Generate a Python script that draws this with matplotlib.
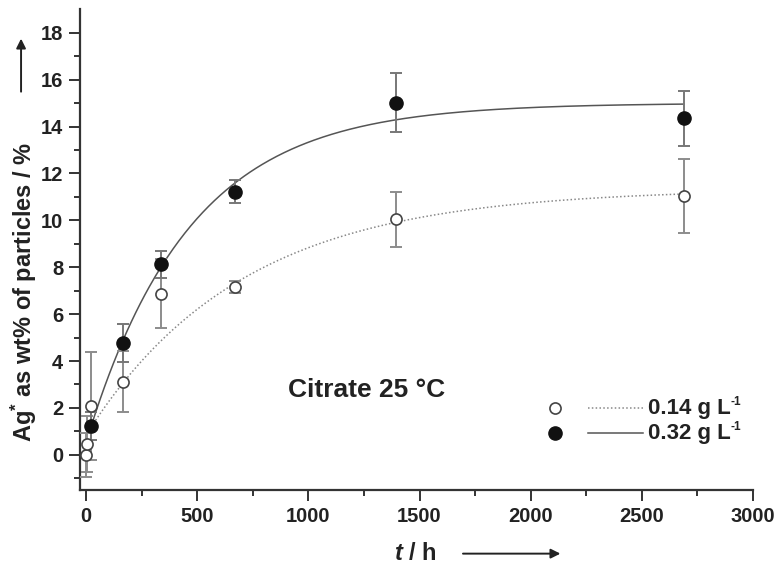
import numpy as np
import matplotlib
matplotlib.use("Agg")
import matplotlib.pyplot as plt
from matplotlib.patches import FancyArrowPatch

plt.rcParams['font.family'] = ['Liberation Sans', 'DejaVu Sans']
plt.rcParams['font.weight'] = 'bold'
plt.rcParams['mathtext.fontset'] = 'custom'
plt.rcParams['mathtext.rm'] = 'Liberation Sans:bold'
plt.rcParams['mathtext.bf'] = 'Liberation Sans:bold'
plt.rcParams['mathtext.it'] = 'Liberation Sans:italic:bold'

# measured Ag+ release, two particle concentrations
t_low = [0, 3, 24, 168, 336, 672, 1392, 2688]
y_low = [0.0, 0.45, 2.1, 3.12, 6.87, 7.17, 10.04, 11.03]
e_low = [0.95, 1.2, 2.3, 1.3, 1.48, 0.25, 1.17, 1.58]

t_high = [24, 168, 336, 672, 1392, 2688]
y_high = [1.22, 4.78, 8.12, 11.22, 15.01, 14.35]
e_high = [0.6, 0.8, 0.57, 0.5, 1.26, 1.16]

# first-order fit parameters: y = y0 + (ymax - y0) * (1 - exp(-(t - t0) / tau))
fit_low = dict(t0=24, y0=1.2, ymax=11.35, tau=700)
fit_high = dict(t0=24, y0=1.25, ymax=15.0, tau=463)

legend_labels = ['0.14 g L', '0.32 g L']
legend_sup = '-1'

def fit_curve(p, t):
    return p['y0'] + (p['ymax'] - p['y0']) * (1 - np.exp(-(t - p['t0']) / p['tau']))

fig = plt.figure(figsize=(7.8, 5.69), dpi=100)
ax = fig.add_axes([0.1026, 0.1388, 0.8628, 0.8449])

tt = np.linspace(24, 2688, 400)
ax.plot(tt, fit_curve(fit_low, tt), ls=(0, (1, 1.5)), color='#888888', lw=1.1, zorder=2)
ax.plot(tt, fit_curve(fit_high, tt), ls='-', color='#555555', lw=1.1, zorder=2)

ax.errorbar(t_low, y_low, yerr=e_low, fmt='none', ecolor='#8c8c8c', elinewidth=1.4,
            capsize=4, capthick=1.4, zorder=3)
ax.errorbar(t_high, y_high, yerr=e_high, fmt='none', ecolor='#777777', elinewidth=1.4,
            capsize=4, capthick=1.4, zorder=3)
ax.plot(t_low, y_low, 'o', mfc='white', mec='#444444', mew=1.2, ms=8, zorder=4)
ax.plot(t_high, y_high, 'o', mfc='#111111', mec='#111111', ms=9.5, zorder=5)

ax.set_xlim(-27, 3000)
ax.set_ylim(-1.5, 19)
ax.set_xticks(np.arange(0, 3001, 500))
ax.set_xticks(np.arange(250, 3000, 500), minor=True)
ax.set_yticks(np.arange(0, 19, 2))
ax.set_yticks(np.arange(-1, 19, 2), minor=True)

for s in ['top', 'right']:
    ax.spines[s].set_visible(False)
for s in ['left', 'bottom']:
    ax.spines[s].set_linewidth(1.6)
    ax.spines[s].set_color('#333333')
ax.tick_params(which='major', direction='out', length=8, width=1.4, color='#333333',
               labelsize=14.5, labelcolor='#222222', pad=4)
ax.tick_params(which='minor', direction='out', length=4, width=1.4, color='#333333')
for lab in ax.get_xticklabels() + ax.get_yticklabels():
    lab.set_fontweight('bold')

# legend drawn by hand
leg_y = [0.1706, 0.1186]
ax.plot([0.706], [leg_y[0]], 'o', mfc='white', mec='#444444', mew=1.2, ms=8,
        transform=ax.transAxes, clip_on=False)
ax.plot([0.706], [leg_y[1]], 'o', mfc='#111111', mec='#111111', ms=9.5,
        transform=ax.transAxes, clip_on=False)
ax.plot([0.755, 0.8366], [leg_y[0], leg_y[0]], ls=(0, (1, 1.5)), color='#888888', lw=1.1,
        transform=ax.transAxes)
ax.plot([0.755, 0.8366], [leg_y[1], leg_y[1]], ls='-', color='#555555', lw=1.1,
        transform=ax.transAxes)

for lab, y in zip(legend_labels, leg_y):
    txt = ax.text(0.844, y, lab, transform=ax.transAxes, va='center', ha='left',
                  fontsize=16, fontweight='bold', color='#222222')
    ax.annotate(legend_sup, xy=(1.0, 1.0), xycoords=txt, xytext=(-0.5, 1),
                textcoords='offset points', va='top', ha='left',
                fontsize=8.5, fontweight='bold', color='#222222')

ax.text(0.309, 0.208, 'Citrate 25 °C', transform=ax.transAxes, va='center', ha='left',
        fontsize=19, fontweight='bold', color='#222222')

# axis titles with arrows
fig.text(0.031, 0.4877, 'Ag$^{*}$ as wt% of particles / %', rotation=90,
         ha='center', va='center', fontsize=17, fontweight='bold', color='#222222')
fig.add_artist(FancyArrowPatch((0.027, 0.834), (0.027, 0.937),
               transform=fig.transFigure, arrowstyle='-|>', mutation_scale=14,
               color='#222222', lw=1.4))
fig.text(0.533, 0.028, '$t$ / h', ha='center', va='center', fontsize=17,
         fontweight='bold', color='#222222')
fig.add_artist(FancyArrowPatch((0.59, 0.027), (0.722, 0.027),
               transform=fig.transFigure, arrowstyle='-|>', mutation_scale=14,
               color='#222222', lw=1.4))

fig.savefig('out.png', dpi=100, facecolor='white')
